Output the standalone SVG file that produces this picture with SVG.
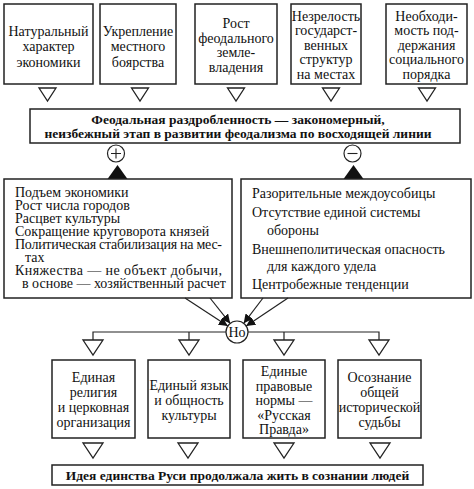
<svg xmlns="http://www.w3.org/2000/svg" width="474" height="489" viewBox="0 0 474 489">
<style>
.box{fill:#fff;stroke:#222;stroke-width:1.5}
.tri{fill:#fff;stroke:#222;stroke-width:1.3}
.ln{fill:none;stroke:#222;stroke-width:1.2}
.t{font-family:"Liberation Serif","Times New Roman","DejaVu Serif",serif;font-size:14px;fill:#111;text-anchor:middle}
.l{font-family:"Liberation Serif","Times New Roman","DejaVu Serif",serif;font-size:14px;fill:#111}
.b{font-family:"Liberation Serif","Times New Roman","DejaVu Serif",serif;font-size:13.5px;font-weight:bold;fill:#111;text-anchor:middle}
</style>
<defs>
<marker id="ah" viewBox="0 0 10 10" refX="10" refY="5" markerWidth="9" markerHeight="9" markerUnits="userSpaceOnUse" orient="auto">
<path d="M0,0 L10,5 L0,10 z" fill="#111"/>
</marker>
</defs>
<rect width="474" height="489" fill="#fff"/>

<g id="cause1">
<rect class="box" x="4" y="4" width="89" height="80"/>
<text class="t" x="48.5" y="36">Натуральный</text>
<text class="t" x="48.5" y="51">характер</text>
<text class="t" x="48.5" y="67">экономики</text>
<path class="tri" d="M39,88 L56,88 L47.5,101 z"/>
</g>
<g id="cause2">
<rect class="box" x="100" y="4" width="76" height="80"/>
<text class="t" x="138" y="36">Укрепление</text>
<text class="t" x="138" y="51">местного</text>
<text class="t" x="138" y="67">боярства</text>
<path class="tri" d="M131.5,88 L148.5,88 L140,101 z"/>
</g>
<g id="cause3">
<rect class="box" x="195" y="4" width="82" height="80"/>
<text class="t" x="236" y="28">Рост</text>
<text class="t" x="236" y="43">феодального</text>
<text class="t" x="236" y="57">земле-</text>
<text class="t" x="236" y="72">владения</text>
<path class="tri" d="M227.5,88 L244.5,88 L236,101 z"/>
</g>
<g id="cause4">
<rect class="box" x="291" y="4" width="70" height="80"/>
<text class="t" x="326" y="21">Незрелость</text>
<text class="t" x="326" y="35">государст-</text>
<text class="t" x="326" y="50">венных</text>
<text class="t" x="326" y="64">структур</text>
<text class="t" x="326" y="79">на местах</text>
<path class="tri" d="M322.5,88 L339.5,88 L331,101 z"/>
</g>
<g id="cause5">
<rect class="box" x="386" y="4" width="81" height="80"/>
<text class="t" x="426.5" y="21">Необходи-</text>
<text class="t" x="426.5" y="35">мость под-</text>
<text class="t" x="426.5" y="50">держания</text>
<text class="t" x="426.5" y="64">социального</text>
<text class="t" x="426.5" y="79">порядка</text>
<path class="tri" d="M418.5,88 L435.5,88 L427,101 z"/>
</g>

<g id="main">
<rect class="box" x="30" y="109" width="430" height="34"/>
<text class="b" x="238" y="124">Феодальная раздробленность — закономерный,</text>
<text class="b" x="238" y="138">неизбежный этап в развитии феодализма по восходящей линии</text>
</g>

<g id="plus">
<circle cx="116" cy="153.5" r="8.5" fill="#fff" stroke="#222" stroke-width="1.2"/>
<path d="M111,153.5 H121 M116,148.5 V158.5" stroke="#222" stroke-width="1.1"/>
<path d="M117.5,165 L127.5,179 L107.5,179 z" fill="#111"/>
</g>
<g id="minus">
<circle cx="352.5" cy="153.5" r="8.5" fill="#fff" stroke="#222" stroke-width="1.2"/>
<path d="M347.5,153.5 H357.5" stroke="#222" stroke-width="1.1"/>
<path d="M353.5,165 L363.5,179 L343.5,179 z" fill="#111"/>
</g>

<g id="pros">
<rect class="box" x="4" y="179" width="228" height="119"/>
<text class="l" x="15" y="197">Подъем экономики</text>
<text class="l" x="15" y="210">Рост числа городов</text>
<text class="l" x="15" y="223">Расцвет культуры</text>
<text class="l" x="15" y="236">Сокращение круговорота князей</text>
<text class="l" x="15" y="249" textLength="207" lengthAdjust="spacing">Политическая стабилизация на мес-</text>
<text class="l" x="25" y="262">тах</text>
<text class="l" x="15" y="275" textLength="207" lengthAdjust="spacing">Княжества — не объект добычи,</text>
<text class="l" x="22" y="288">в основе — хозяйственный расчет</text>
</g>

<g id="cons">
<rect class="box" x="241" y="179" width="230" height="119"/>
<text class="l" x="252" y="198">Разорительные междоусобицы</text>
<text class="l" x="252" y="217">Отсутствие единой системы</text>
<text class="l" x="267" y="235">обороны</text>
<text class="l" x="252" y="254">Внешнеполитическая опасность</text>
<text class="l" x="267" y="271">для каждого удела</text>
<text class="l" x="252" y="289">Центробежные тенденции</text>
</g>

<g id="connectors">
<line class="ln" x1="185" y1="298" x2="227.8" y2="326" marker-end="url(#ah)"/>
<line class="ln" x1="210" y1="298" x2="230.2" y2="323.4" marker-end="url(#ah)"/>
<line class="ln" x1="263" y1="298" x2="243.7" y2="323.3" marker-end="url(#ah)"/>
<line class="ln" x1="288" y1="298" x2="246.2" y2="325.9" marker-end="url(#ah)"/>
<path class="ln" d="M93,340 V332 H226 M248,332 H379 V340 M189,332 V340 M284,332 V340"/>
</g>

<g id="but">
<circle cx="237" cy="332" r="11" fill="#fff" stroke="#222" stroke-width="1.2"/>
<text class="t" x="237" y="337">Но</text>
</g>

<g id="u1">
<path class="tri" d="M83,340 L103,340 L93,355 z"/>
<rect class="box" x="52" y="360" width="83" height="78"/>
<text class="t" x="93.5" y="382">Единая</text>
<text class="t" x="93.5" y="397">религия</text>
<text class="t" x="93.5" y="412">и церковная</text>
<text class="t" x="93.5" y="427">организация</text>
<path class="tri" d="M83,443 L103,443 L93,458 z"/>
</g>
<g id="u2">
<path class="tri" d="M179,340 L199,340 L189,355 z"/>
<rect class="box" x="148" y="360" width="82" height="78"/>
<text class="t" x="189" y="390">Единый язык</text>
<text class="t" x="189" y="405">и общность</text>
<text class="t" x="189" y="420">культуры</text>
<path class="tri" d="M178,443 L198,443 L188,458 z"/>
</g>
<g id="u3">
<path class="tri" d="M274,340 L294,340 L284,355 z"/>
<rect class="box" x="243" y="360" width="82" height="78"/>
<text class="t" x="284" y="376">Единые</text>
<text class="t" x="284" y="391">правовые</text>
<text class="t" x="284" y="405">нормы —</text>
<text class="t" x="284" y="420">«Русская</text>
<text class="t" x="284" y="434">Правда»</text>
<path class="tri" d="M274,443 L294,443 L284,458 z"/>
</g>
<g id="u4">
<path class="tri" d="M369,340 L389,340 L379,355 z"/>
<rect class="box" x="338" y="360" width="83" height="78"/>
<text class="t" x="379.5" y="382">Осознание</text>
<text class="t" x="379.5" y="397">общей</text>
<text class="t" x="379.5" y="412">исторической</text>
<text class="t" x="379.5" y="427">судьбы</text>
<path class="tri" d="M370,443 L390,443 L380,458 z"/>
</g>

<g id="result">
<rect class="box" x="52" y="465" width="371" height="20"/>
<text class="b" x="237.5" y="480">Идея единства Руси продолжала жить в сознании людей</text>
</g>
</svg>
